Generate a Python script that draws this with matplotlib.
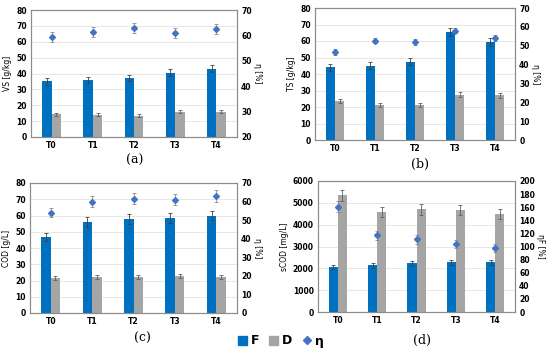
import numpy as np
import matplotlib
matplotlib.use('Agg')
import matplotlib.pyplot as plt
from matplotlib.lines import Line2D
from matplotlib.patches import Patch

cats = ['T0', 'T1', 'T2', 'T3', 'T4']

# (a) VS
vs_f = [35.0, 36.0, 37.0, 40.5, 43.0]
vs_f_err = [2.0, 2.0, 2.0, 2.3, 2.2]
vs_d = [14.3, 14.0, 13.5, 16.0, 16.0]
vs_d_err = [1.0, 0.9, 1.0, 1.0, 1.1]
vs_eta = [59.5, 61.3, 63.0, 60.8, 62.5]
vs_eta_err = [2.0, 2.0, 2.0, 2.0, 2.0]

# (b) TS
ts_f = [44.0, 45.0, 47.5, 65.5, 59.5]
ts_f_err = [2.0, 2.2, 2.2, 2.5, 2.5]
ts_d = [23.5, 21.2, 21.5, 27.5, 27.0]
ts_d_err = [1.3, 1.2, 1.2, 1.3, 1.3]
ts_eta = [46.5, 52.7, 52.0, 58.0, 54.2]
ts_eta_err = [1.5, 1.5, 1.5, 1.5, 1.5]

# (c) COD
cod_f = [47.0, 56.0, 58.0, 58.5, 60.0]
cod_f_err = [2.5, 3.0, 3.0, 3.0, 3.0]
cod_d = [21.5, 22.0, 22.0, 22.5, 22.0]
cod_d_err = [1.2, 1.2, 1.2, 1.2, 1.2]
cod_eta = [54.0, 60.0, 61.5, 61.0, 63.0]
cod_eta_err = [2.5, 2.8, 3.0, 3.0, 3.0]

# (d) sCOD
scod_f = [2050, 2130, 2230, 2270, 2270]
scod_f_err = [100, 100, 110, 110, 110]
scod_d = [5350, 4600, 4700, 4650, 4500]
scod_d_err = [250, 230, 240, 230, 230]
scod_eta = [161, 117, 111, 104, 98]
scod_eta_err = [8, 7, 7, 6, 6]

blue = '#0070C0'
grey = '#A5A5A5'
eta_c = '#4472C4'
frame_c = '#8C8C8C'

W, H = 550, 351
fig = plt.figure(figsize=(5.5, 3.51), dpi=100)


def box(l, t, r, b):
    return [l / W, 1 - b / H, (r - l) / W, (b - t) / H]


def panel(rect, f, f_err, d, d_err, eta, eta_err, ylab, ylim, ystep,
          rlab, rlim, rstep):
    ax = fig.add_axes(rect)
    x = np.arange(len(cats))
    w = 0.23
    ax.bar(x - w / 2, f, w, color=blue, zorder=2)
    ax.bar(x + w / 2, d, w, color=grey, zorder=2)
    ax.errorbar(x - w / 2, f, f_err, fmt='none', ecolor='#404040',
                elinewidth=0.6, capsize=1.5, capthick=0.6, zorder=3)
    ax.errorbar(x + w / 2, d, d_err, fmt='none', ecolor='#606060',
                elinewidth=0.6, capsize=1.5, capthick=0.6, zorder=3)
    ax.set_xlim(-0.5, len(cats) - 0.5)
    ax.set_ylim(*ylim)
    ax.set_yticks(np.arange(ylim[0], ylim[1] + ystep / 2, ystep))
    ax.set_xticks(x)
    ax.set_xticklabels(cats)
    ax.yaxis.grid(True, color='#E3E3E3', linewidth=0.6, zorder=0)
    ax.set_axisbelow(True)
    for s in ax.spines.values():
        s.set_color(frame_c)
        s.set_linewidth(0.8)
    ax.tick_params(length=0, labelsize=5.5, pad=3)
    for lb in ax.get_xticklabels() + ax.get_yticklabels():
        lb.set_fontweight('bold')
    ax.set_ylabel(ylab, fontsize=5.5, labelpad=3)

    ax2 = ax.twinx()
    ax2.errorbar(x, eta, eta_err, fmt='D', color=eta_c, markersize=3,
                 ecolor='#8A8A8A', elinewidth=0.6, capsize=1.5,
                 capthick=0.6, zorder=4)
    ax2.set_ylim(*rlim)
    ax2.set_yticks(np.arange(rlim[0], rlim[1] + rstep / 2, rstep))
    ax2.tick_params(length=0, labelsize=5.5, pad=3)
    for lb in ax2.get_yticklabels():
        lb.set_fontweight('bold')
    for s in ax2.spines.values():
        s.set_color(frame_c)
        s.set_linewidth(0.8)
    ax2.set_ylabel(rlab, fontsize=5.5, rotation=270, labelpad=7)
    return ax


panel(box(31, 10, 237, 137), vs_f, vs_f_err, vs_d, vs_d_err, vs_eta, vs_eta_err,
      'VS [g/kg]', (0, 80), 10, 'η [%]', (20, 70), 10)
panel(box(315, 8, 515, 140), ts_f, ts_f_err, ts_d, ts_d_err, ts_eta, ts_eta_err,
      'TS [g/kg]', (0, 80), 10, 'η [%]', (0, 70), 10)
panel(box(30, 183, 237, 313), cod_f, cod_f_err, cod_d, cod_d_err, cod_eta, cod_eta_err,
      'COD [g/L]', (0, 80), 10, 'η [%]', (0, 70), 10)
panel(box(318, 181, 515, 312), scod_f, scod_f_err, scod_d, scod_d_err, scod_eta, scod_eta_err,
      'sCOD [mg/L]', (0, 6000), 1000, 'ηF [%]', (0, 200), 20)

cap = dict(ha='center', va='center', fontsize=9, family='DejaVu Serif')
fig.text(135 / W, 1 - 160 / H, '(a)', **cap)
fig.text(420 / W, 1 - 164 / H, '(b)', **cap)
fig.text(142 / W, 1 - 338 / H, '(c)', **cap)
fig.text(422 / W, 1 - 340 / H, '(d)', **cap)

handles = [Patch(color=blue, label='F'), Patch(color=grey, label='D'),
           Line2D([], [], marker='D', color=eta_c, linestyle='none',
                  markersize=4, label='η')]
leg = fig.legend(handles=handles, loc='center', bbox_to_anchor=(281 / W, 1 - 341 / H),
                 ncol=3, frameon=False, handlelength=0.7, handleheight=0.7,
                 handletextpad=0.3, columnspacing=0.8,
                 prop={'size': 9, 'weight': 'bold'})

fig.savefig('out.png', dpi=100)
